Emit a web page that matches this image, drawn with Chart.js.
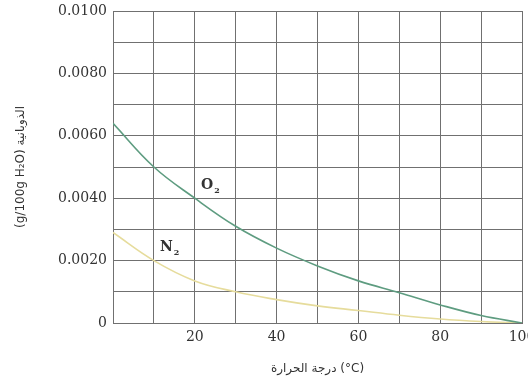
<!DOCTYPE html>
<html>
<head>
<meta charset="utf-8">
<script src="https://cdn.jsdelivr.net/npm/chart.js@4"></script>
<style>
html,body{margin:0;padding:0;background:#fff;}
#wrap{width:528px;height:389px;position:relative;}
</style>
</head>
<body>
<div id="wrap"><canvas id="c" width="528" height="389"></canvas></div>
<script>
// Data
const temperatures = [0, 10, 20, 30, 40, 50, 60, 70, 80, 90, 100];
const o2Solubility = [0.0064, 0.0050, 0.0040, 0.0031, 0.0024, 0.00183, 0.00135, 0.00097, 0.00058, 0.00024, 0.0];
const n2Solubility = [0.0029, 0.0020, 0.00135, 0.0010, 0.00075, 0.00055, 0.0004, 0.00025, 0.00013, 0.00005, 0.0];
const xTickLabels = [20, 40, 60, 80, 100];
const yTickLabels = [0, 0.002, 0.004, 0.006, 0.008, 0.010];
const seriesNames = ['O', 'N'];

const toPts = (ys) => temperatures.map((t, i) => ({x: t, y: ys[i]}));

const labelPlugin = {
  id: 'curveLabels',
  afterDatasetsDraw(chart, args, opts) {
    const ctx = chart.ctx;
    const xs = chart.scales.x, ys = chart.scales.y;
    ctx.save();
    ctx.fillStyle = '#333';
    opts.items.forEach(it => {
      const px = xs.getPixelForValue(it.x), py = ys.getPixelForValue(it.y);
      ctx.font = 'bold 14px "DejaVu Serif"';
      ctx.textBaseline = 'alphabetic';
      ctx.textAlign = 'left';
      ctx.fillText(it.text, px, py);
      const w = ctx.measureText(it.text).width;
      ctx.font = 'bold 8px "DejaVu Serif"';
      ctx.fillText('2', px + w + 1, py + 4);
    });
    ctx.restore();
  }
};

new Chart(document.getElementById('c'), {
  type: 'line',
  data: {
    datasets: [
      {label: 'O2', data: toPts(o2Solubility), borderColor: '#5e9c80', borderWidth: 1.6, pointRadius: 0, tension: 0.4, fill: false},
      {label: 'N2', data: toPts(n2Solubility), borderColor: '#e6dc9c', borderWidth: 1.6, pointRadius: 0, tension: 0.4, fill: false}
    ]
  },
  options: {
    responsive: false,
    animation: false,
    layout: {padding: {top: 11, right: 6, left: 0, bottom: 0}},
    plugins: {
      legend: {display: false},
      tooltip: {enabled: false},
      curveLabels: {items: [
        {text: seriesNames[0], x: 21.5, y: 0.0043},
        {text: seriesNames[1], x: 11.5, y: 0.0023}
      ]}
    },
    scales: {
      x: {
        type: 'linear', min: 0, max: 100,
        grid: {color: '#707070', lineWidth: 1, drawTicks: false},
        border: {color: '#707070'},
        ticks: {
          stepSize: 10, autoSkip: false, maxRotation: 0, padding: 6,
          color: '#333', font: {family: 'DejaVu Serif', size: 14},
          callback: (v) => xTickLabels.includes(v) ? String(v) : ''
        },
        title: {display: true, text: 'درجة الحرارة (°C)', color: '#333', font: {family: 'DejaVu Sans', size: 12}, padding: {top: 8, bottom: 13}},
        afterFit(s) { s.height = 66; s.paddingLeft = 0; s.paddingRight = 0; }
      },
      y: {
        min: 0, max: 0.01,
        grid: {color: '#707070', lineWidth: 1, drawTicks: false},
        border: {color: '#707070'},
        ticks: {
          stepSize: 0.001, autoSkip: false, padding: 6,
          color: '#333', font: {family: 'DejaVu Serif', size: 14},
          callback: (v) => {
            const m = yTickLabels.find(t => Math.abs(t - v) < 1e-9);
            if (m === undefined) return '';
            return m === 0 ? '0' : m.toFixed(4);
          }
        },
        title: {display: true, text: '(g/100g H₂O) الذوبانية', color: '#333', font: {family: 'DejaVu Sans', size: 12}, padding: {top: 14, bottom: 4}},
        afterFit(s) { s.width = 113; s.paddingTop = 0; s.paddingBottom = 0; }
      }
    }
  },
  plugins: [labelPlugin]
});
</script>
</body>
</html>
